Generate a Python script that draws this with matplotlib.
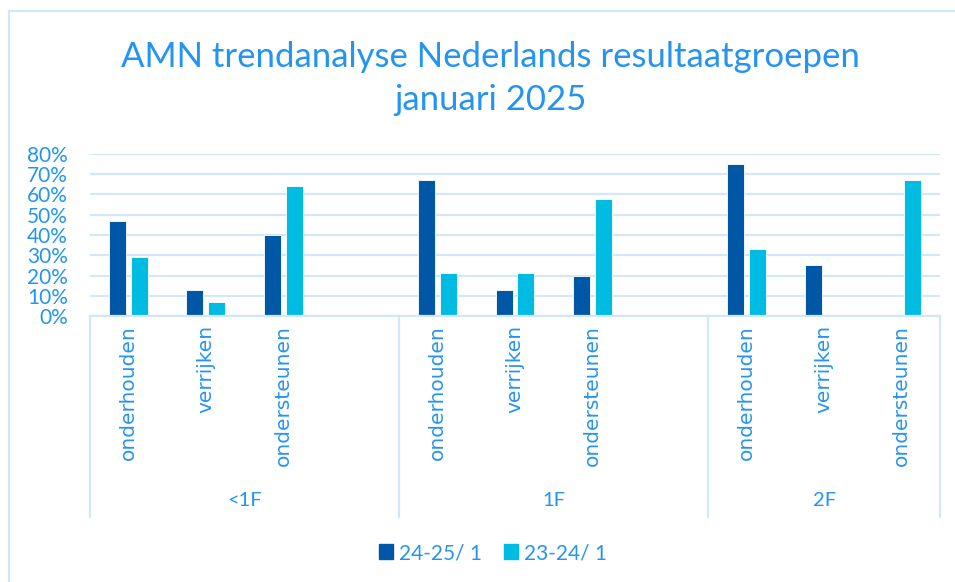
import numpy as np
import matplotlib.pyplot as plt
from matplotlib.lines import Line2D
from matplotlib.patches import Rectangle, Patch

# Data
groups = ["<1F", "1F", "2F"]
group_sizes = [4, 4, 3]   # aantal categorieslots per groep (laatste leeg bij <1F en 1F)
categories = ["onderhouden", "verrijken", "ondersteunen", "",
              "onderhouden", "verrijken", "ondersteunen", "",
              "onderhouden", "verrijken", "ondersteunen"]
serie_2425 = [0.47, 0.13, 0.40, np.nan,
              0.67, 0.13, 0.20, np.nan,
              0.75, 0.25, np.nan]
serie_2324 = [0.29, 0.07, 0.64, np.nan,
              0.21, 0.21, 0.58, np.nan,
              0.33, np.nan, 0.67]
series_names = ["24-25/ 1", "23-24/ 1"]
yticks = [0, 0.1, 0.2, 0.3, 0.4, 0.5, 0.6, 0.7, 0.8]

# Stijl
text_col = "#2594F0"
dark_col = "#0057A6"
light_col = "#00BBE2"
grid_col = "#D2E7FA"
W, H = 955, 582

fig = plt.figure(figsize=(W / 100, H / 100), dpi=100)
fig.patches.append(Rectangle((8.5 / W, -0.1), 1.2, 1.1 - 10.5 / H, transform=fig.transFigure,
                             fill=False, edgecolor="#CFE6FC", linewidth=1.5))

left, right, top, bottom = 90, 940, 154, 316
ax = fig.add_axes([left / W, 1 - bottom / H, (right - left) / W, (bottom - top) / H])

x = np.arange(len(categories))
bw = 0.22
off = 0.142
ax.bar(x - off, serie_2425, width=bw, color=dark_col, edgecolor="white", linewidth=0.6, zorder=3)
ax.bar(x + off, serie_2324, width=bw, color=light_col, edgecolor="white", linewidth=0.6, zorder=3)

ax.set_xlim(-0.5, len(categories) - 0.5)
ax.set_ylim(0, 0.8)
ax.set_yticks(yticks)
ax.set_yticklabels([f"{int(round(v * 100))}%" for v in yticks],
                   fontsize=15, color=text_col, family="Lato")
ax.tick_params(axis="y", length=0, pad=16)
ax.set_xticks([])
ax.yaxis.grid(True, color=grid_col, linewidth=1.6, zorder=0)
for s in ["left", "right", "top"]:
    ax.spines[s].set_visible(False)
ax.spines["bottom"].set_color(grid_col)
ax.spines["bottom"].set_linewidth(1.6)
ax.spines["bottom"].set_zorder(4)

# categorielabels (gedraaid)
trans = ax.get_xaxis_transform()
ax_h = bottom - top
for xi, lab in zip(x, categories):
    if lab:
        ax.text(xi, -9 / ax_h, lab, rotation=90, ha="center", va="top", transform=trans,
                fontsize=14.5, color=text_col, family="DejaVu Sans")

# groepslabels en scheidingslijnen
sep_bottom = -(517 - bottom) / ax_h
edges = np.concatenate([[0], np.cumsum(group_sizes)]) - 0.5
for e in edges:
    ax.add_line(Line2D([e, e], [0, sep_bottom], transform=trans, color=grid_col,
                       linewidth=1.6, clip_on=False))
for g, a, b in zip(groups, edges[:-1], edges[1:]):
    ax.text((a + b) / 2, -(500 - bottom) / ax_h, g, ha="center", va="center", transform=trans,
            fontsize=14.5, color=text_col, family="Lato")

fig.text(490 / W, 1 - 57 / H, "AMN trendanalyse Nederlands resultaatgroepen",
         ha="center", va="center", fontsize=25, color=text_col, family="Lato")
fig.text(490 / W, 1 - 100 / H, "januari 2025",
         ha="center", va="center", fontsize=25, color=text_col, family="Lato")

handles = [Patch(color=dark_col), Patch(color=light_col)]
fig.legend(handles, series_names, loc="center", bbox_to_anchor=(493 / W, 1 - 553 / H), ncol=2,
           frameon=False, handlelength=0.67, handleheight=0.7, handletextpad=0.25,
           columnspacing=1.1, prop={"family": "Lato", "size": 15}, labelcolor=text_col)

fig.savefig("out.png", dpi=100)
